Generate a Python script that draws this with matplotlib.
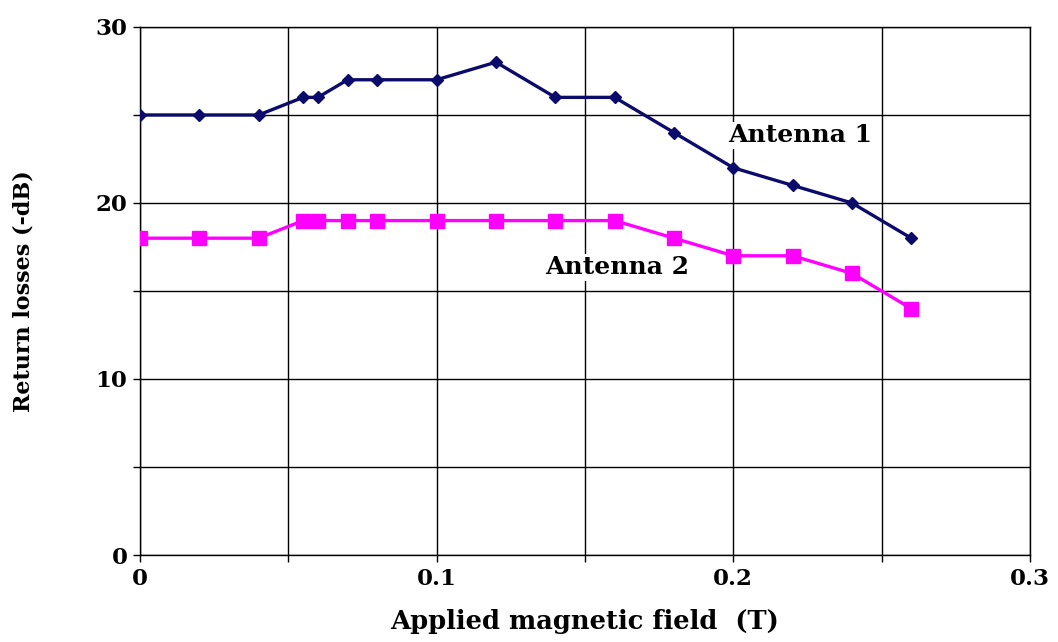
import matplotlib
matplotlib.use('Agg')
import matplotlib.pyplot as plt
from matplotlib.ticker import MultipleLocator, FuncFormatter

field = [0, 0.02, 0.04, 0.055, 0.06, 0.07, 0.08, 0.1, 0.12, 0.14, 0.16, 0.18, 0.2, 0.22, 0.24, 0.26]
antenna1 = [25, 25, 25, 26, 26, 27, 27, 27, 28, 26, 26, 24, 22, 21, 20, 18]
antenna2 = [18, 18, 18, 19, 19, 19, 19, 19, 19, 19, 19, 18, 17, 17, 16, 14]

plt.rcParams['font.family'] = ['DejaVu Serif']
plt.rcParams['font.weight'] = 'bold'

fig = plt.figure(figsize=(10.58, 6.42), dpi=100)
ax = fig.add_axes([0.1323, 0.1355, 0.8412, 0.8225])

ax.plot(field, antenna1, color='#0b0b6b', lw=2.4, marker='D', ms=6, zorder=3)
ax.plot(field, antenna2, color='#ff00ff', lw=2.4, marker='s', ms=10, zorder=3)

ax.set_xlim(0, 0.3)
ax.set_ylim(0, 30)
ax.xaxis.set_major_locator(MultipleLocator(0.05))
ax.yaxis.set_major_locator(MultipleLocator(5))
ax.xaxis.set_major_formatter(FuncFormatter(
    lambda v, p: ('0' if abs(v) < 1e-9 else '%.1f' % v) if abs(round(v * 10) - v * 10) < 1e-6 else ''))
ax.yaxis.set_major_formatter(FuncFormatter(
    lambda v, p: '%d' % v if int(round(v)) % 10 == 0 else ''))
ax.grid(True, color='black', lw=1)
ax.tick_params(direction='out', length=5, width=1, labelsize=16.5, pad=4)
for lbl in ax.get_xticklabels() + ax.get_yticklabels():
    lbl.set_fontweight('bold')
for s in ax.spines.values():
    s.set_color('black')
    s.set_linewidth(1)

ax.text(0.1982, 23.86, 'Antenna 1', fontsize=18, fontweight='bold', va='center',
        bbox=dict(facecolor='white', edgecolor='none', pad=1), zorder=4)
ax.text(0.1365, 16.36, 'Antenna 2', fontsize=18, fontweight='bold', va='center',
        bbox=dict(facecolor='white', edgecolor='none', pad=1), zorder=4)

ax.set_xlabel('Applied magnetic field  (T)', fontsize=18.5, fontweight='bold', labelpad=14)
ax.set_ylabel('Return losses (-dB)', fontsize=16, fontweight='bold', labelpad=44)

plt.savefig('out.png', dpi=100)
plt.close()
